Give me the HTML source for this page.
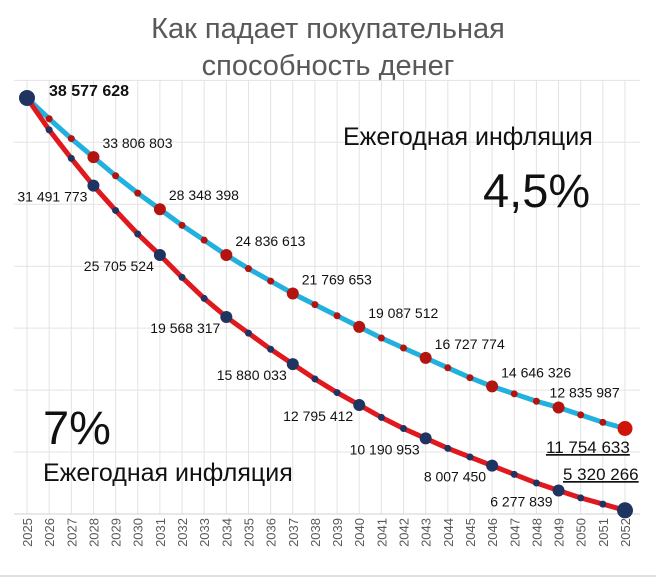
<!DOCTYPE html>
<html><head><meta charset="utf-8"><style>
body{margin:0;background:#fff;}
svg{display:block;font-family:"Liberation Sans","DejaVu Sans",sans-serif;}
</style></head><body>
<svg id="chart" width="656" height="579" viewBox="0 0 656 579" xmlns="http://www.w3.org/2000/svg">
<text x="328" y="38" text-anchor="middle" font-size="29" fill="#595959">Как падает покупательная</text>
<text x="328" y="75" text-anchor="middle" font-size="29" fill="#595959">способность денег</text>
<g id="grid"></g>
<g id="axis"></g>
<g id="series"></g>
<g id="labels"></g>
<text x="343" y="145" font-size="25" fill="#111">Ежегодная инфляция</text>
<text x="483" y="207" font-size="47" fill="#111">4,5%</text>
<text x="43" y="444" font-size="47" fill="#111">7%</text>
<text x="43" y="481" font-size="25" fill="#111">Ежегодная инфляция</text>
<line x1="0" y1="576" x2="656" y2="576" stroke="#bfbfbf" stroke-width="1"/>
</svg>
<script>
const years = [2025,2026,2027,2028,2029,2030,2031,2032,2033,2034,2035,2036,2037,2038,2039,2040,2041,2042,2043,2044,2045,2046,2047,2048,2049,2050,2051,2052];
const blueValues = [38.58,36.9,35.3,33.8,32.3,30.9,29.6,28.3,27.1,25.9,24.8,23.8,22.8,21.9,21.0,20.1,19.2,18.4,17.6,16.8,16.0,15.3,14.7,14.1,13.6,13.0,12.4,11.9];
const redValues = [38.58,36.0,33.7,31.5,29.5,27.6,25.9,24.1,22.4,20.9,19.6,18.3,17.1,15.9,14.8,13.8,12.8,11.9,11.1,10.3,9.6,8.9,8.2,7.5,6.9,6.3,5.8,5.3];
const yTicks = [5,10,15,20,25,30,35,40];
const blueLabels = [[3,"33 806 803"],[6,"28 348 398"],[9,"24 836 613"],[12,"21 769 653"],[15,"19 087 512"],[18,"16 727 774"],[21,"14 646 326"],[24,"12 835 987"]];
const redLabels = [[3,"31 491 773"],[6,"25 705 524"],[9,"19 568 317"],[12,"15 880 033"],[15,"12 795 412"],[18,"10 190 953"],[21,"8 007 450"],[24,"6 277 839"]];
const startLabel = "38 577 628";
const blueEndLabel = "11 754 633";
const redEndLabel = "5 320 266";

const NS="http://www.w3.org/2000/svg";
const x0=27,x1=625,yMin=5,yBot=514,pxPer=12.39;
function xs(i){return x0+(x1-x0)*i/(years.length-1);}
function ys(v){return yBot-(v-yMin)*pxPer;}
function mk(tag,attrs,parent){const e=document.createElementNS(NS,tag);for(const k in attrs)e.setAttribute(k,attrs[k]);parent.appendChild(e);return e;}
const grid=document.getElementById('grid'),axis=document.getElementById('axis'),series=document.getElementById('series'),labels=document.getElementById('labels');
const plotTop=ys(yTicks[yTicks.length-1]);
years.forEach((y,i)=>{
  const l=mk('line',{x1:xs(i),x2:xs(i),y1:plotTop,y2:yBot,stroke:'#e3e3e3','stroke-width':1},grid);
  
  
  const t=mk('text',{x:0,y:0,'font-size':13,fill:'#595959','text-anchor':'end',transform:`translate(${xs(i)+5},518) rotate(-90)`},axis);
  
  
  t.textContent=y;
});
yTicks.forEach(v=>{
  const l=mk('line',{x1:14,x2:640,y1:ys(v),y2:ys(v),stroke:v===yMin?'#d0d0d0':'#e3e3e3','stroke-width':1},grid);
  
  
});
function line(vals,color,name){
  const p=mk('polyline',{points:vals.map((v,i)=>xs(i)+','+ys(v)).join(' '),fill:'none',stroke:color,'stroke-width':5,'stroke-linejoin':'round','stroke-linecap':'round'},series);
  
  
}
line(blueValues,'#22b1df','blue-line-4-5');
line(redValues,'#e0191e','red-line-7');
function dots(vals,color,name){
  vals.forEach((v,i)=>{
    const big=i%3===0;
    const c=mk('circle',{cx:xs(i),cy:ys(v),r:big?6:3.5,fill:color},series);
    
    
  });
}
dots(blueValues,'#b3140f','blue-point');
dots(redValues,'#1f3460','red-point');
let c=mk('circle',{cx:xs(0),cy:ys(blueValues[0]),r:8,fill:'#1f3460'},series);


c=mk('circle',{cx:xs(27),cy:ys(blueValues[27]),r:7.5,fill:'#d0140c'},series);


c=mk('circle',{cx:xs(27),cy:ys(redValues[27]),r:8,fill:'#1f3460'},series);


function txt(x,y,s,opts,name){
  const t=mk('text',Object.assign({x:x,y:y,'font-size':14,fill:'#111'},opts||{}),labels);
  
  
  t.textContent=s;return t;
}
txt(49,96,startLabel,{'font-weight':'bold','font-size':16},'start-value-label');
blueLabels.forEach(([i,s])=>{const dx=i===24?-9:9;const dy=i===24?-10:-9;txt(xs(i)+dx,ys(blueValues[i])+dy,s,{},'blue-value-label');});
redLabels.forEach(([i,s])=>{txt(xs(i)-6,ys(redValues[i])+16,s,{'text-anchor':'end'},'red-value-label');});
txt(546,453,blueEndLabel,{'font-size':17,'text-decoration':'underline'},'blue-end-label');
txt(563,480,redEndLabel,{'font-size':17,'text-decoration':'underline'},'red-end-label');
</script>
</body></html>
